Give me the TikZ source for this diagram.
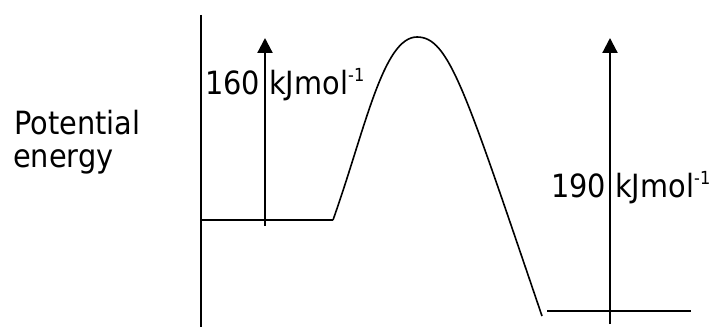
\documentclass[tikz,border=0pt]{standalone}
\usepackage{fontspec}
\setmainfont{DejaVu Sans}[FakeStretch=0.9]
\usetikzlibrary{arrows.meta}
\tikzset{
  lbl/.style={anchor=base west, inner sep=0pt, font=\fontsize{32}{32}\selectfont},
  axisline/.style={line width=2pt},
  level/.style={line width=2pt},
  energyarrow/.style={line width=2.2pt, -{Triangle[length=15pt,width=15pt]}},
  curveline/.style={line width=1.6pt, line join=round}
}
\newcommand{\supm}{{\fontsize{18}{18}\selectfont\raisebox{13pt}{-1}}}
\begin{document}
\begin{tikzpicture}[x=1pt,y=-1pt]
\useasboundingbox (0,0) rectangle (714,328);
% axis
\coordinate (axtop) at (201,15);
\coordinate (axbot) at (201,327);
\draw[axisline] (axtop) -- (axbot);
% levels
\coordinate (L1) at (202,220);
\coordinate (L2) at (333,220);
\coordinate (R1) at (547,311);
\coordinate (R2) at (691,311);
\draw[level] (L1) -- (L2);
\draw[level] (R1) -- (R2);
% curve
\coordinate (peak) at (417,37);
\coordinate (cend) at (542,316);
\draw[curveline] (L2) .. controls (365,130) and (383,37) .. (peak)
  .. controls (449,37) and (465,90) .. (cend);
% arrows
\coordinate (a1b) at (265,226);
\coordinate (a1t) at (265,38);
\coordinate (a2b) at (610,324);
\coordinate (a2t) at (610,38);
\draw[energyarrow] (a1b) -- (a1t);
\draw[energyarrow] (a2b) -- (a2t);
% labels
\node[lbl] (t160) at (205,95) {160 kJmol\supm};
\node[lbl] (t190) at (551,198) {190 kJmol\supm};
\node[lbl] (pot) at (14,135) {Potential};
\node[lbl] (ene) at (13,168) {energy};
\end{tikzpicture}
\end{document}
